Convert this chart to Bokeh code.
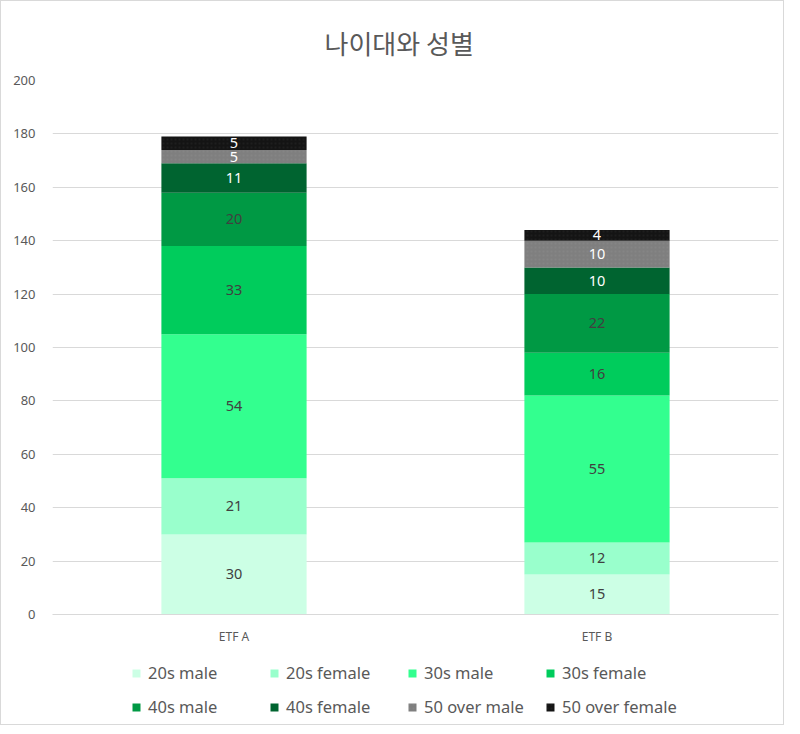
from bokeh.plotting import figure
from bokeh.layouts import column
from bokeh.models import ColumnDataSource, LabelSet, Legend, LegendItem, FixedTicker, Range1d, Title
from bokeh.core.properties import value
from bokeh.embed import file_html
from bokeh.resources import INLINE
import numpy as np

etfs = ["ETF A", "ETF B"]
series_labels = ["20s male", "20s female", "30s male", "30s female",
                 "40s male", "40s female", "50 over male", "50 over female"]
male20 = [30, 15]
female20 = [21, 12]
male30 = [54, 55]
female30 = [33, 16]
male40 = [20, 22]
female40 = [11, 10]
male50 = [5, 10]
female50 = [5, 4]
y_ticks = [0, 20, 40, 60, 80, 100, 120, 140, 160, 180, 200]
title_text = "나이대와 성별"

keys = ["m20", "f20", "m30", "f30", "m40", "f40", "m50", "f50"]
values = [male20, female20, male30, female30, male40, female40, male50, female50]
colors = ["#CCFFE5", "#99FFCC", "#33FF8F", "#00CC5C", "#009944", "#006430", "#7F7F7F", "#141414"]
label_colors = ["#404040"] * 5 + ["#FFFFFF"] * 3

data = {"etf": etfs}
for k, v in zip(keys, values):
    data[k] = v
arr = np.array(values, dtype=float)
cum = np.cumsum(arr, axis=0)
mids = cum - arr / 2.0
for i, k in enumerate(keys):
    data[k + "_mid"] = list(mids[i])
    data[k + "_txt"] = [str(x) for x in values[i]]
source = ColumnDataSource(data)

W = 782
H_MAIN = 657
H_LEG = 66

p = figure(x_range=etfs, y_range=Range1d(0, 200), width=W, height=H_MAIN,
           output_backend="svg", toolbar_location=None,
           min_border_left=51, min_border_right=5, min_border_top=79, min_border_bottom=44,
           background_fill_color="white", border_fill_color="white")
p.outline_line_color = None

def style_hatch(r, col):
    r.glyph.hatch_pattern = "dot"
    r.glyph.hatch_color = col
    r.glyph.hatch_scale = 4
    r.glyph.hatch_alpha = 0.15

renderers = p.vbar_stack(keys, x="etf", width=0.4, color=colors, source=source, line_color=None)
style_hatch(renderers[6], "#AAAAAA")
style_hatch(renderers[7], "#555555")

for i, k in enumerate(keys):
    ls = LabelSet(x="etf", y=k + "_mid", text=k + "_txt", source=source,
                  text_align="center", text_baseline="middle",
                  text_font=value("Noto Sans"), text_font_size=value("14.5px"),
                  text_color=value(label_colors[i]))
    p.add_layout(ls)

p.add_layout(Title(text=title_text, align="left", text_font="Noto Sans CJK KR",
                   text_font_size="26px", text_font_style="normal", text_color="#595959",
                   standoff=40, offset=272), "above")

p.yaxis.ticker = FixedTicker(ticks=y_ticks)
p.yaxis.axis_line_color = None
p.yaxis.major_tick_line_color = None
p.yaxis.minor_tick_line_color = None
p.yaxis.major_label_text_font = "Noto Sans"
p.yaxis.major_label_text_font_size = "13px"
p.yaxis.major_label_text_color = "#595959"
p.yaxis.major_label_standoff = 11

p.xaxis.axis_line_color = "#d9d9d9"
p.xaxis.major_tick_line_color = None
p.xaxis.minor_tick_line_color = None
p.xaxis.major_label_text_font = "Noto Sans"
p.xaxis.major_label_text_font_size = "12px"
p.xaxis.major_label_text_color = "#595959"
p.xaxis.major_label_standoff = 7

p.xgrid.grid_line_color = None
p.ygrid.grid_line_color = "#d9d9d9"
p.ygrid.grid_line_width = 1

# legend figure (renderers drawn out of view, only legend visible)
p2 = figure(x_range=etfs, y_range=Range1d(1000, 1001), width=W, height=H_LEG,
            output_backend="svg", toolbar_location=None,
            min_border=0, background_fill_color="white", border_fill_color="white")
p2.outline_line_color = None
p2.axis.visible = False
p2.grid.visible = False
leg_renderers = p2.vbar_stack(keys, x="etf", width=0.4, color=colors, source=source, line_color=None)
style_hatch(leg_renderers[6], "#AAAAAA")
style_hatch(leg_renderers[7], "#555555")

items = [LegendItem(label=lab, renderers=[r]) for lab, r in zip(series_labels, leg_renderers)]
legend = Legend(items=items, orientation="horizontal", ncols=4,
                glyph_width=10, glyph_height=10, label_standoff=7, label_width=110,
                label_height=23, spacing=11, padding=0, margin=0,
                border_line_color=None, background_fill_alpha=0,
                label_text_font="Noto Sans", label_text_font_size="16.5px",
                label_text_color="#595959", location=(79, 6))
p2.add_layout(legend, "center")

layout = column(p, p2, spacing=0, styles={"border": "1px solid #d9d9d9"})
open("out.html", "w").write(file_html(layout, INLINE))
